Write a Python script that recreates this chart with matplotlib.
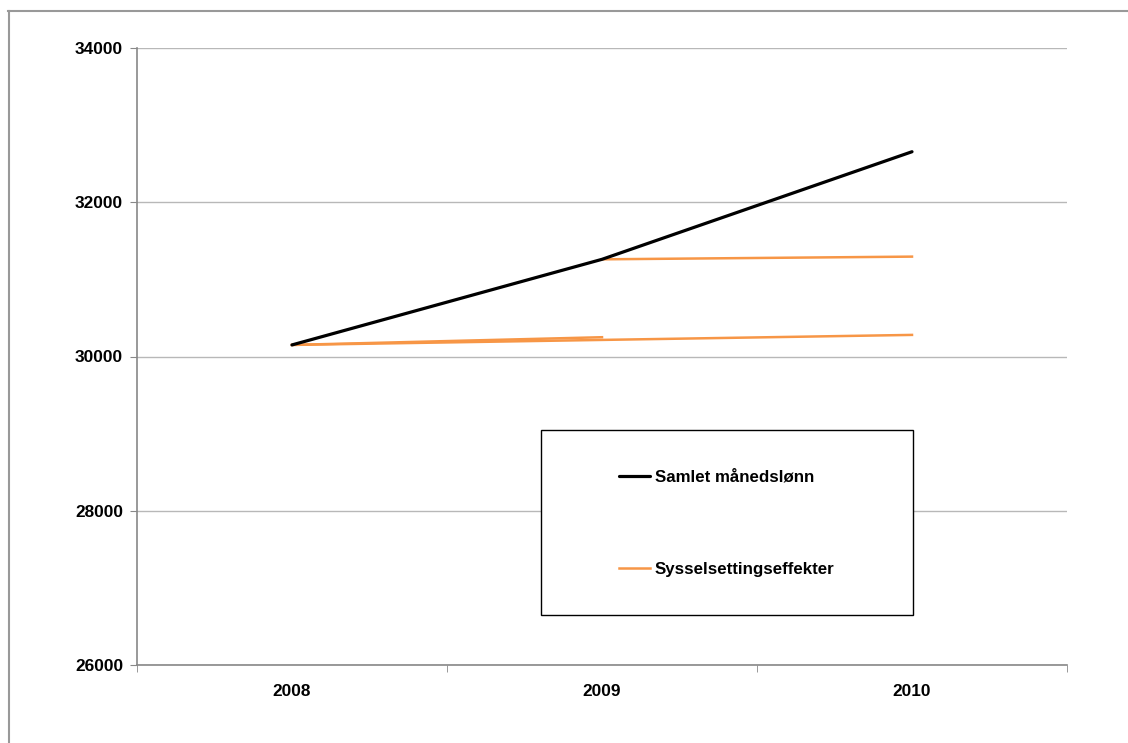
import matplotlib.pyplot as plt
from matplotlib.lines import Line2D
from matplotlib.patches import Rectangle

# Data
years = ['2008', '2009', '2010']
samlet = [30150, 31260, 32655]
# Sysselsettingseffekter is drawn as three separate segments
syssel_2008_2009 = [30150, 30250]
syssel_2008_2010 = [30150, 30280]
syssel_2009_2010 = [31260, 31295]

W, H = 1128, 743
plt.rcParams['font.family'] = ['Liberation Sans', 'DejaVu Sans']
plt.rcParams['font.weight'] = 'bold'

fig = plt.figure(figsize=(W / 100, H / 100), dpi=100)
ax = fig.add_axes([137 / W, 1 - 665 / H, 930 / W, 617 / H])

orange = '#F79646'
ax.plot([0, 1, 2], samlet, color='black', lw=2.3, label='Samlet månedslønn',
        solid_capstyle='round', zorder=4)
ax.plot([0, 1], syssel_2008_2009, color=orange, lw=1.8,
        label='Sysselsettingseffekter', zorder=3)
ax.plot([0, 2], syssel_2008_2010, color=orange, lw=1.8, zorder=3)
ax.plot([1, 2], syssel_2009_2010, color=orange, lw=1.8, zorder=3)

ax.set_xlim(-0.5, 2.5)
ax.set_ylim(26000, 34000)
ax.set_yticks(range(26000, 34001, 2000))
ax.set_xticks(range(len(years)))
ax.set_xticklabels(years)
ax.set_xticks([-0.5, 0.5, 1.5, 2.5], minor=True)
ax.tick_params(axis='x', which='major', length=0, pad=14, labelsize=12.4)
ax.tick_params(axis='x', which='minor', length=5, color='#888888', direction='out')
ax.tick_params(axis='y', length=5, color='#888888', pad=5, labelsize=12.4)
ax.yaxis.grid(True, color='#b8b8b8', lw=1)
ax.set_axisbelow(True)
for s in ['top', 'right']:
    ax.spines[s].set_visible(False)
for s in ['left', 'bottom']:
    ax.spines[s].set_color('#888888')
    ax.spines[s].set_linewidth(1.2)

# legend box
box = Rectangle((541 / W, 1 - 615 / H), 372 / W, 185 / H,
                transform=fig.transFigure, facecolor='white',
                edgecolor='black', lw=1.0, zorder=5)
box.set_clip_on(False)
ax.add_artist(box)
leg = ax.legend(loc='center', bbox_to_anchor=(727 / W, 1 - 523 / H),
                bbox_transform=fig.transFigure, frameon=False,
                prop={'size': 12.2, 'weight': 'bold'},
                labelspacing=4.55, handlelength=1.8, handletextpad=0.3)
leg.set_zorder(6)

# outer chart border (top and left visible)
fig.add_artist(Line2D([8 / W, 1.0], [1 - 10.5 / H, 1 - 10.5 / H],
                      transform=fig.transFigure, color='#999999', lw=1.5))
fig.add_artist(Line2D([8.5 / W, 8.5 / W], [0.0, 1 - 10.5 / H],
                      transform=fig.transFigure, color='#999999', lw=1.5))

fig.savefig('out.png', dpi=100)
